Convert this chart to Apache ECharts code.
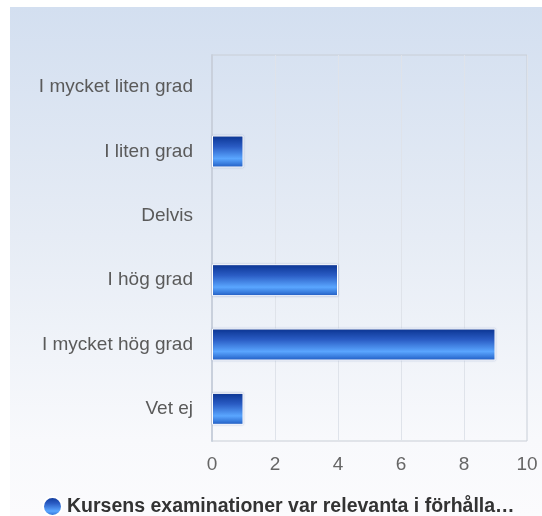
<!DOCTYPE html>
<html>
<head>
<meta charset="utf-8">
<script src="https://cdn.jsdelivr.net/npm/echarts@6/dist/echarts.min.js"></script>
<style>
  html, body { margin: 0; padding: 0; background: #ffffff; }
  #wrap { position: relative; width: 542px; height: 516px; }
  #DataChart {
    position: absolute; left: 10px; top: 7px; width: 532px; height: 509px;
    background: linear-gradient(to bottom, #d3dff0 0%, #e6ecf5 45%, #f8f9fc 85%, #fbfbfd 100%);
  }
</style>
</head>
<body>
<div id="wrap"><div id="DataChart"></div></div>
<script>
// kategorier och värden
var categories = ['I mycket liten grad', 'I liten grad', 'Delvis', 'I hög grad', 'I mycket hög grad', 'Vet ej'];
var values = [0, 1, 0, 4, 9, 1];
var seriesName = 'Kursens examinationer var relevanta i förhållande till kursens mål';
var xTicks = [0, 2, 4, 6, 8, 10];

var myChart = echarts.init(document.getElementById('DataChart'));

var barColor = new echarts.graphic.LinearGradient(0, 0, 0, 1, [
    { offset: 0, color: '#0a3391' },
    { offset: 0.35, color: '#2a5cc4' },
    { offset: 0.72, color: '#5aa6ff' },
    { offset: 1, color: '#1f5cc4' }
]);

// nollvärden ritas utan kant
var barData = values.map(function (v) {
    if (v === 0) {
        return { value: v, itemStyle: { borderWidth: 0, shadowBlur: 0 } };
    }
    return v;
});

var option = {
    animation: false,
    grid: {
        left: 202,
        top: 48,
        right: 15,
        bottom: 75,
        show: true,
        borderColor: '#c9ced6',
        borderWidth: 1,
        backgroundColor: 'transparent'
    },
    legend: {
        data: [seriesName],
        bottom: -1,
        left: 32,
        padding: 0,
        icon: 'circle',
        itemWidth: 19,
        itemHeight: 19,
        itemGap: 6,
        textStyle: {
            fontFamily: 'Arial, "Liberation Sans", sans-serif',
            fontSize: 19.5,
            fontWeight: 'bold',
            color: '#333333',
            width: 459,
            overflow: 'truncate',
            ellipsis: '…'
        }
    },
    xAxis: {
        type: 'value',
        min: 0,
        max: 10,
        interval: 2,
        axisLabel: {
            fontFamily: 'Arial, "Liberation Sans", sans-serif',
            fontSize: 19,
            color: '#666666',
            margin: 14
        },
        axisTick: { show: false },
        axisLine: { show: false },
        splitLine: { show: true, lineStyle: { color: '#dfe3ea', width: 1 } }
    },
    yAxis: {
        type: 'category',
        inverse: true,
        data: categories,
        axisLabel: {
            fontFamily: 'Arial, "Liberation Sans", sans-serif',
            fontSize: 19,
            color: '#5a5a5a',
            margin: 19
        },
        axisTick: { show: false },
        axisLine: { show: true, lineStyle: { color: '#c9d0dc', width: 2 } },
        splitLine: { show: false }
    },
    series: [
        {
            name: seriesName,
            type: 'bar',
            data: barData,
            barWidth: 32,
            itemStyle: {
                color: barColor,
                borderColor: '#ffffff',
                borderWidth: 1,
                shadowColor: 'rgba(60,90,160,0.35)',
                shadowBlur: 2
            }
        }
    ]
};

myChart.setOption(option);
</script>
</body>
</html>
